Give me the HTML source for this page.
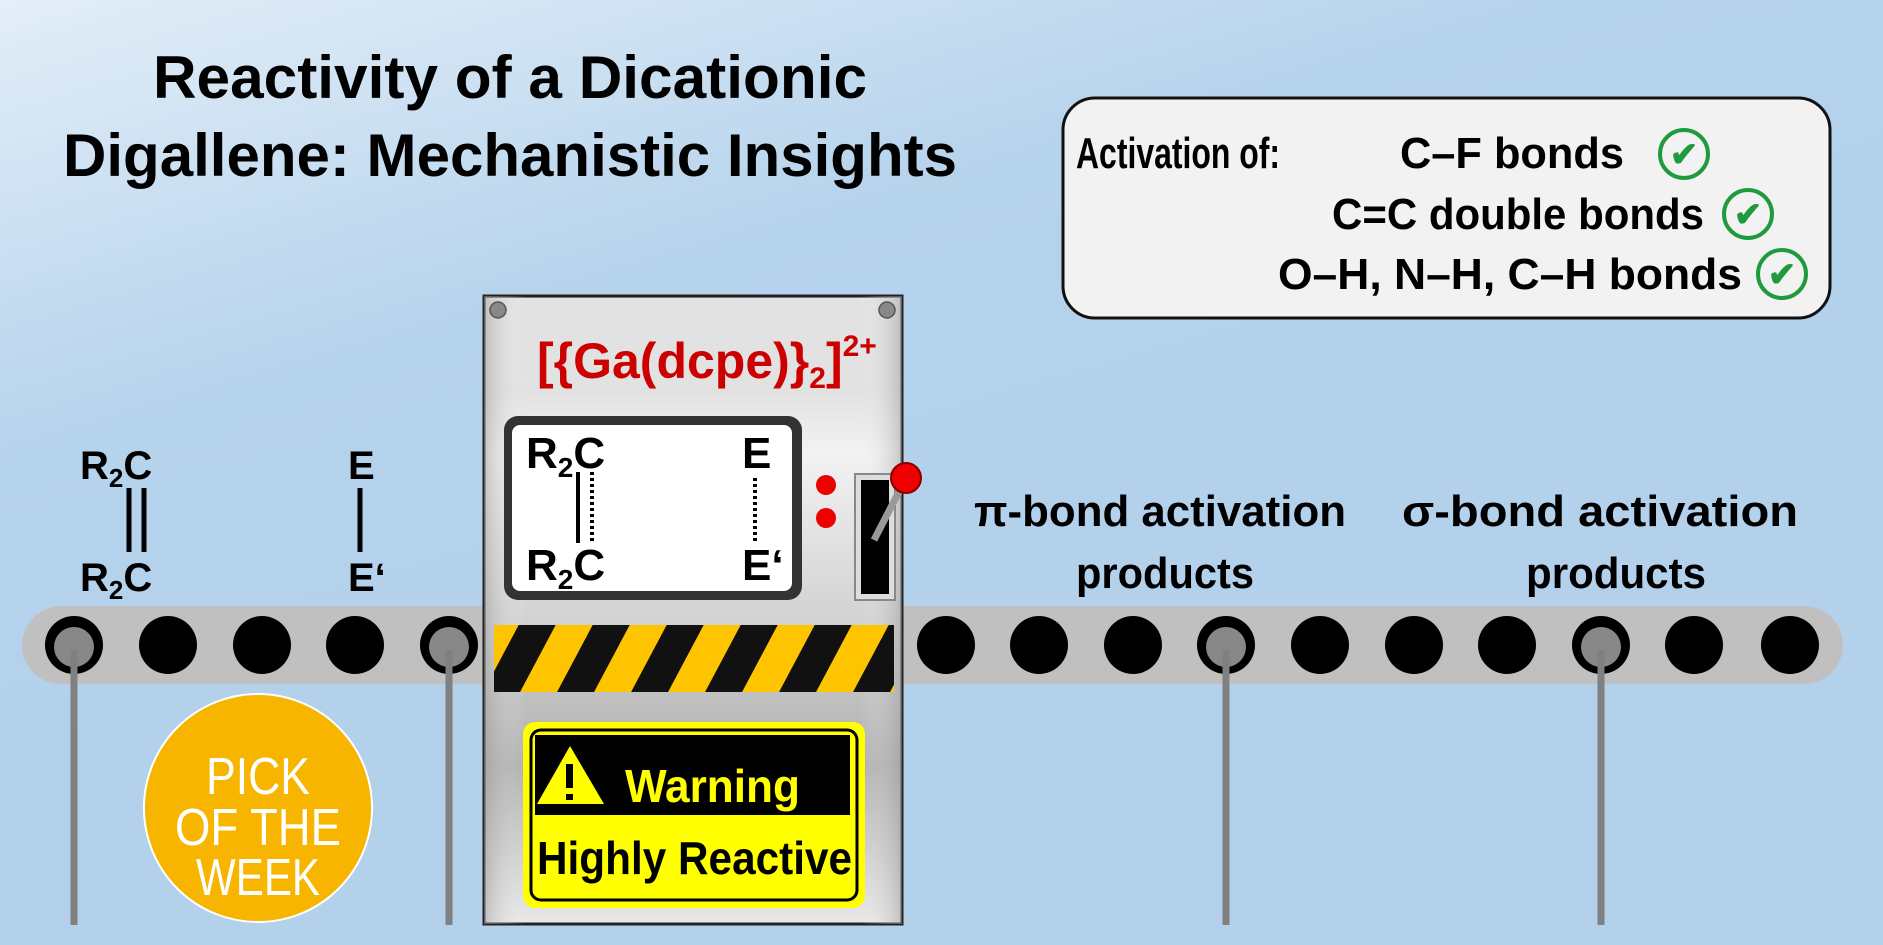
<!DOCTYPE html>
<html><head><meta charset="utf-8"><style>
html,body{margin:0;padding:0;width:1883px;height:945px;overflow:hidden;}
svg{display:block;font-family:"Liberation Sans",sans-serif;}
</style></head><body>
<svg width="1883" height="945" viewBox="0 0 1883 945" xmlns="http://www.w3.org/2000/svg">
<defs>
<linearGradient id="bg" x1="0" y1="0" x2="0.35" y2="0.6">
<stop offset="0" stop-color="#e3eef8"/><stop offset="0.6" stop-color="#b6d3ec"/><stop offset="1" stop-color="#b3d1eb"/></linearGradient>
<linearGradient id="metal" x1="0" y1="0" x2="0" y2="1">
<stop offset="0" stop-color="#c8c8c8"/><stop offset="0.25" stop-color="#f2f2f2"/><stop offset="0.5" stop-color="#d4d4d4"/><stop offset="0.75" stop-color="#b0b0b0"/><stop offset="1" stop-color="#e8e8e8"/></linearGradient>
<linearGradient id="metalH" x1="0" y1="0" x2="1" y2="0">
<stop offset="0" stop-color="#9a9a9a" stop-opacity="0.5"/><stop offset="0.1" stop-color="#fff" stop-opacity="0"/><stop offset="0.9" stop-color="#fff" stop-opacity="0"/><stop offset="1" stop-color="#9a9a9a" stop-opacity="0.5"/></linearGradient>
<pattern id="haz" width="74" height="80" patternUnits="userSpaceOnUse" patternTransform="skewX(-28)">
<rect width="74" height="80" fill="#111"/><rect x="0" width="37" height="80" fill="#ffc400"/></pattern>
</defs>
<rect width="1883" height="945" fill="url(#bg)"/>

<text x="510" y="98" font-size="60" font-weight="bold" text-anchor="middle" textLength="714" lengthAdjust="spacingAndGlyphs">Reactivity of a Dicationic</text>
<text x="510" y="176" font-size="60" font-weight="bold" text-anchor="middle" textLength="894" lengthAdjust="spacingAndGlyphs">Digallene: Mechanistic Insights</text>

<rect x="1063" y="98" width="767" height="220" rx="32" fill="#f2f2f2" stroke="#111" stroke-width="3"/>
<g font-size="44" font-weight="bold">
<text x="1076" y="168" textLength="204" lengthAdjust="spacingAndGlyphs">Activation of:</text>
<text x="1400" y="168" textLength="224" lengthAdjust="spacingAndGlyphs">C–F bonds</text>
<text x="1332" y="229" textLength="372" lengthAdjust="spacingAndGlyphs">C=C double bonds</text>
<text x="1278" y="289" textLength="464" lengthAdjust="spacingAndGlyphs">O–H, N–H, C–H bonds</text>
</g>
<g fill="none" stroke="#1f9a3c" stroke-width="4">
<circle cx="1684" cy="154" r="24"/><circle cx="1748" cy="214" r="24"/><circle cx="1782" cy="274" r="24"/></g>
<g font-size="34" font-weight="bold" fill="#1f9a3c" text-anchor="middle">
<text x="1684" y="166">✔</text><text x="1748" y="226">✔</text><text x="1782" y="286">✔</text></g>

<rect x="22" y="606" width="1821" height="78" rx="39" fill="#c0c0c0"/>
<g fill="#000">
<circle cx="74" cy="645" r="29"/><circle cx="168" cy="645" r="29"/><circle cx="262" cy="645" r="29"/><circle cx="355" cy="645" r="29"/><circle cx="449" cy="645" r="29"/>
<circle cx="946" cy="645" r="29"/><circle cx="1039" cy="645" r="29"/><circle cx="1133" cy="645" r="29"/><circle cx="1226" cy="645" r="29"/><circle cx="1320" cy="645" r="29"/><circle cx="1414" cy="645" r="29"/><circle cx="1507" cy="645" r="29"/><circle cx="1601" cy="645" r="29"/><circle cx="1694" cy="645" r="29"/><circle cx="1790" cy="645" r="29"/>
</g>
<g fill="#888"><circle cx="74" cy="647" r="20"/><circle cx="449" cy="647" r="20"/><circle cx="1226" cy="647" r="20"/><circle cx="1601" cy="647" r="20"/></g>
<g stroke="#808080" stroke-width="7">
<line x1="74" y1="650" x2="74" y2="925"/><line x1="449" y1="650" x2="449" y2="925"/><line x1="1226" y1="650" x2="1226" y2="925"/><line x1="1601" y1="650" x2="1601" y2="925"/></g>

<circle cx="258" cy="808" r="114" fill="#f7b500" stroke="#fff" stroke-width="2"/>
<g fill="#fff" font-size="52" text-anchor="middle">
<text x="258" y="794" textLength="104" lengthAdjust="spacingAndGlyphs">PICK</text>
<text x="258" y="845" textLength="166" lengthAdjust="spacingAndGlyphs">OF THE</text>
<text x="258" y="895" textLength="124" lengthAdjust="spacingAndGlyphs">WEEK</text></g>

<g font-size="40" font-weight="bold">
<text x="80" y="479">R<tspan font-size="26" dy="8">2</tspan><tspan dy="-8">C</tspan></text>
<text x="80" y="591">R<tspan font-size="26" dy="8">2</tspan><tspan dy="-8">C</tspan></text>
<text x="348" y="479">E</text><text x="348" y="591">E‘</text>
</g>
<g stroke="#000" stroke-width="5"><line x1="129" y1="488" x2="129" y2="552"/><line x1="144" y1="488" x2="144" y2="552"/><line x1="360" y1="488" x2="360" y2="552"/></g>

<g font-size="44" font-weight="bold" text-anchor="middle">
<text x="1160" y="526" textLength="372" lengthAdjust="spacingAndGlyphs">π-bond activation</text>
<text x="1165" y="588" textLength="178" lengthAdjust="spacingAndGlyphs">products</text>
<text x="1600" y="526" textLength="396" lengthAdjust="spacingAndGlyphs">σ-bond activation</text>
<text x="1616" y="588" textLength="180" lengthAdjust="spacingAndGlyphs">products</text></g>

<rect x="484" y="296" width="418" height="628" fill="url(#metal)" stroke="#222" stroke-width="3"/>
<rect x="486" y="298" width="414" height="90" fill="#e2e2e2"/>
<rect x="484" y="296" width="418" height="628" fill="url(#metalH)"/>
<g fill="#888" stroke="#555" stroke-width="1.5"><circle cx="498" cy="310" r="8"/><circle cx="887" cy="310" r="8"/></g>
<text x="537" y="378" font-size="50" font-weight="bold" fill="#cc0000">[{Ga(dcpe)}<tspan font-size="30" dy="10">2</tspan><tspan dy="-10">]</tspan><tspan font-size="30" dy="-22">2+</tspan></text>
<rect x="504" y="416" width="298" height="184" rx="14" fill="#333"/>
<rect x="512" y="425" width="280" height="166" rx="8" fill="#fff"/>
<g font-size="44" font-weight="bold">
<text x="526" y="468">R<tspan font-size="28" dy="9">2</tspan><tspan dy="-9">C</tspan></text>
<text x="526" y="580">R<tspan font-size="28" dy="9">2</tspan><tspan dy="-9">C</tspan></text>
<text x="742" y="468">E</text><text x="742" y="580">E‘</text></g>
<line x1="578" y1="472" x2="578" y2="543" stroke="#000" stroke-width="4"/>
<line x1="592" y1="472" x2="592" y2="543" stroke="#000" stroke-width="4" stroke-dasharray="3,3"/>
<line x1="755" y1="478" x2="755" y2="543" stroke="#000" stroke-width="4" stroke-dasharray="3,3"/>
<circle cx="826" cy="485" r="10" fill="#e00"/><circle cx="826" cy="518" r="10" fill="#e00"/>
<rect x="855" y="474" width="40" height="126" fill="#ddd" stroke="#888" stroke-width="2"/>
<rect x="861" y="480" width="28" height="114" fill="#000"/>
<line x1="874" y1="540" x2="904" y2="482" stroke="#999" stroke-width="7"/>
<circle cx="906" cy="478" r="15" fill="#e00" stroke="#800" stroke-width="2"/>
<rect x="494" y="625" width="400" height="67" fill="url(#haz)"/>
<rect x="523" y="722" width="342" height="186" rx="12" fill="#ffff00"/>
<rect x="531" y="730" width="326" height="170" rx="10" fill="none" stroke="#000" stroke-width="3"/>
<rect x="535" y="735" width="315" height="80" fill="#000"/>
<polygon points="570,746 537,804 604,804" fill="#ffff00"/>
<rect x="566" y="764" width="7" height="24" fill="#000"/><rect x="566" y="794" width="7" height="6" fill="#000"/>
<text x="625" y="802" font-size="46" font-weight="bold" fill="#ffff00" textLength="175" lengthAdjust="spacingAndGlyphs">Warning</text>
<text x="537" y="874" font-size="46" font-weight="bold" fill="#000" textLength="315" lengthAdjust="spacingAndGlyphs">Highly Reactive</text>
</svg>
</body></html>
